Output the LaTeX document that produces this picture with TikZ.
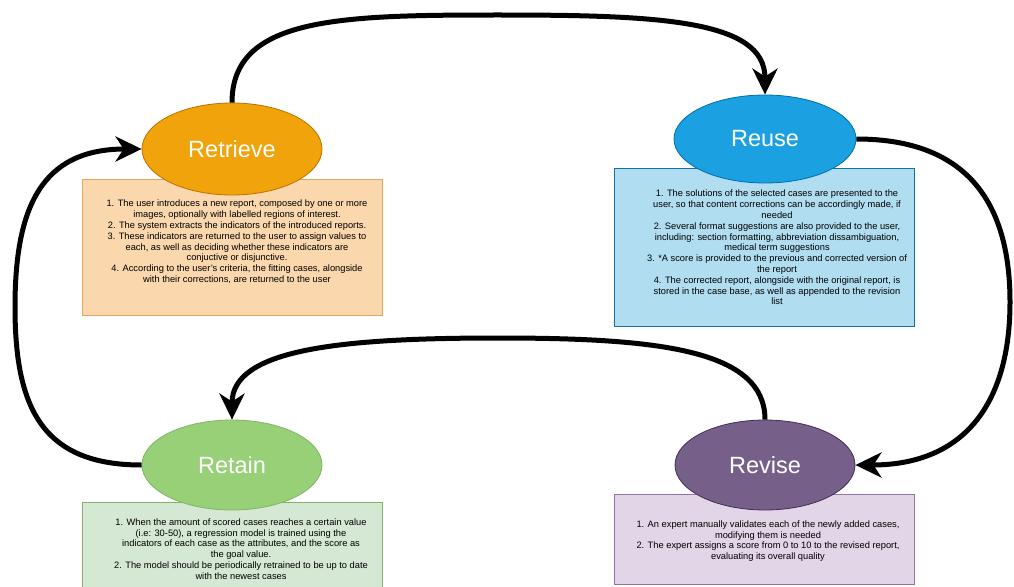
\documentclass[tikz,border=0pt]{standalone}
\usepackage{fontspec}
\setmainfont{Liberation Sans}
\usetikzlibrary{shapes.geometric,arrows.meta}
\definecolor{retrievefill}{HTML}{F0A30A}
\definecolor{retrieveline}{HTML}{BD7000}
\definecolor{retrievecard}{HTML}{FAD7AC}
\definecolor{retrieveedge}{HTML}{E3A65E}
\definecolor{reusefill}{HTML}{1BA1E2}
\definecolor{reuseline}{HTML}{006EAF}
\definecolor{reusecard}{HTML}{B1DDF0}
\definecolor{reuseedge}{HTML}{10739E}
\definecolor{retainfill}{HTML}{97D077}
\definecolor{retainline}{HTML}{82B366}
\definecolor{retaincard}{HTML}{D5E8D4}
\definecolor{retainedge}{HTML}{82B366}
\definecolor{revisefill}{HTML}{76608A}
\definecolor{reviseline}{HTML}{432D57}
\definecolor{revisecard}{HTML}{E1D5E7}
\definecolor{reviseedge}{HTML}{9673A6}
\tikzset{
    arrow/.style = { -{Stealth[length=26pt,width=25pt,inset=8pt]},line width=5pt, },
    blob/.style = { ellipse,draw,line width=0.8pt,minimum width=180pt,minimum height=90pt,inner sep=0,text=white,font=\fontsize{23.5}{28}\selectfont, },
    card/.style = { draw,line width=0.8pt,inner sep=0,anchor=north west, },
    write/.style = { text=black,font=\fontsize{9.3}{10.8}\selectfont,align=center,inner sep=0, },
}

\begin{document}
\begin{tikzpicture}[x=1pt,y=-1pt]

    \useasboundingbox (0,0) rectangle (1014,586);

    % cards
    \node [card,fill=retrievecard,draw=retrieveedge,minimum width=300pt,minimum height=136pt] (retrievebox) at (82,179) {};
    \node [card,fill=reusecard,draw=reuseedge,minimum width=300pt,minimum height=158pt] (reusebox) at (614,168) {};
    \node [card,fill=retaincard,draw=retainedge,minimum width=300pt,minimum height=92pt] (retainbox) at (82,502) {};
    \node [card,fill=revisecard,draw=reviseedge,minimum width=300pt,minimum height=90pt] (revisebox) at (614,494) {};

    \node [write] (retrievetext) at (237,242) {1. The user introduces a new report, composed by one or more\\
        images, optionally with labelled regions of interest.\\
        2. The system extracts the indicators of the introduced reports.\\
        3. These indicators are returned to the user to assign values to\\
        each, as well as deciding whether these indicators are\\
        conjuctive or disjunctive.\\
        4. According to the user's criteria, the fitting cases, alongside\\
        with their corrections, are returned to the user};
    \node [write] (reusetext) at (777,247.5) {1. The solutions of the selected cases are presented to the\\
        user, so that content corrections can be accordingly made, if\\
        needed\\
        2. Several format suggestions are also provided to the user,\\
        including: section formatting, abbreviation dissambiguation,\\
        medical term suggestions\\
        3. *A score is provided to the previous and corrected version of\\
        the report\\
        4. The corrected report, alongside with the original report, is\\
        stored in the case base, as well as appended to the revision\\
        list};
    \node [write] (retaintext) at (241,549) {1. When the amount of scored cases reaches a certain value\\
        (i.e: 30-50), a regression model is trained using the\\
        indicators of each case as the attributes, and the score as\\
        the goal value.\\
        2. The model should be periodically retrained to be up to date\\
        with the newest cases};
    \node [write] (revisetext) at (768,541) {1. An expert manually validates each of the newly added cases,\\
        modifying them is needed\\
        2. The expert assigns a score from 0 to 10 to the revised report,\\
        evaluating its overall quality};

    % phases
    \node [blob,fill=retrievefill,draw=retrieveline,minimum height=92pt] (retrieve) at (232,149) {Retrieve};
    \node [blob,fill=reusefill,draw=reuseline,minimum width=182pt,minimum height=88pt] (reuse) at (765,139) {Reuse};
    \node [blob,fill=retainfill,draw=retainline] (retain) at (232,465) {Retain};
    \node [blob,fill=revisefill,draw=reviseline] (revise) at (765,465) {Revise};

    \coordinate (toparc) at (498,15);
    \coordinate (rightarc) at (1010,302);
    \coordinate (midarc) at (498,338);
    \coordinate (leftarc) at (15,307);

    \draw [arrow] (retrieve.north) .. controls +(0,-85) and +(-160,0) .. (toparc)
        .. controls +(160,0) and +(0,-75) .. (reuse.north);
    \draw [arrow] (reuse.east) .. controls +(110,0) and +(0,-100) .. (rightarc)
        .. controls +(0,100) and +(110,0) .. (revise.east);
    \draw [arrow] (revise.north) .. controls +(0,-70) and +(160,0) .. (midarc)
        .. controls +(-160,0) and +(0,-70) .. (retain.north);
    \draw [arrow] (retain.west) .. controls +(-100,0) and +(0,100) .. (leftarc)
        .. controls +(0,-100) and +(-100,0) .. (retrieve.west);

\end{tikzpicture}
\end{document}
